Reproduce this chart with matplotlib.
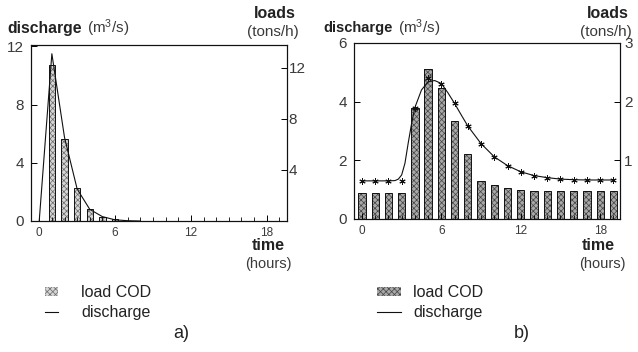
import matplotlib
matplotlib.use("Agg")
import matplotlib.pyplot as plt
from matplotlib.patches import Patch
from matplotlib.lines import Line2D

plt.rcParams['font.family'] = ['Liberation Sans', 'DejaVu Sans']
plt.rcParams['mathtext.default'] = 'regular'
plt.rcParams['hatch.linewidth'] = 0.5

# ---------------- data: panel a ----------------
a_hours = [1, 2, 3, 4, 5, 6]
a_load = [12.2, 6.4, 2.56, 0.92, 0.34, 0.13]          # tons/h (right axis)
a_q_time = [0, 1, 2, 3, 4, 5, 6, 7, 8]
a_q = [0.0, 11.5, 5.75, 2.2, 0.8, 0.3, 0.08, 0.02, 0.0]  # m3/s (left axis)

# ---------------- data: panel b ----------------
b_hours = list(range(20))
b_load = [0.44, 0.44, 0.44, 0.44, 1.90, 2.55, 2.23, 1.67, 1.10, 0.65,
          0.58, 0.52, 0.49, 0.48, 0.47, 0.47, 0.47, 0.47, 0.47, 0.47]
b_q = [1.30, 1.30, 1.30, 1.30, 3.77, 4.80, 4.60, 3.94, 3.17, 2.57,
       2.12, 1.82, 1.61, 1.48, 1.41, 1.36, 1.34, 1.33, 1.33, 1.33]
b_curve_t = [0, 1, 2, 2.5, 2.75, 3, 3.25, 3.5, 3.75, 4, 4.5, 5, 5.5, 6,
             6.5, 7, 7.5, 8, 9, 10, 11, 12, 13, 14, 15, 16, 17, 18, 19]
b_curve_q = [1.30, 1.30, 1.30, 1.31, 1.36, 1.50, 1.90, 2.60, 3.25, 3.80,
             4.40, 4.68, 4.72, 4.62, 4.30, 3.94, 3.55, 3.17, 2.57, 2.12,
             1.82, 1.61, 1.48, 1.41, 1.36, 1.34, 1.33, 1.33, 1.33]

x_major = [0, 6, 12, 18]
a_left_ticks = [0, 4, 8, 12]
a_right_ticks = [4, 8, 12]
b_left_ticks = [0, 2, 4, 6]
b_right_ticks = [1, 2, 3]

W, H = 638, 352
fig = plt.figure(figsize=(W / 100, H / 100), dpi=100)


def P(x, y):
    return x / W, 1 - y / H


def make_axes(l, t, r, b):
    return fig.add_axes([l / W, 1 - b / H, (r - l) / W, (b - t) / H])


TXT = '#222222'
LIGHT = '#3a3a3a'


def style(ax, ax2, xlim, ylim, ylim2, lt, rt, rpad):
    ax.set_xlim(*xlim)
    ax.set_ylim(*ylim)
    ax2.set_ylim(*ylim2)
    ax.set_xticks(x_major)
    ax.set_xticks(range(0, 20), minor=True)
    ax.set_yticks(lt)
    ax2.set_yticks(rt)
    ax.tick_params(axis='x', which='both', direction='in', labelsize=8.5,
                   pad=4, labelcolor=LIGHT)
    ax.tick_params(axis='x', which='major', length=4, width=0.7)
    ax.tick_params(axis='x', which='minor', length=3, width=0.6)
    ax.tick_params(axis='y', direction='in', labelsize=11, length=4,
                   width=0.7, pad=5, labelcolor=LIGHT)
    ax2.tick_params(axis='y', direction='in', labelsize=11, length=4,
                    width=0.7, pad=rpad, labelcolor=LIGHT)
    for a in (ax, ax2):
        for s in a.spines.values():
            s.set_linewidth(0.8)
            s.set_color('#111111')


# ================= panel a =================
axa = make_axes(31, 45, 287, 221)
axa2 = axa.twinx()
axa2.bar(a_hours, a_load, width=0.5, color='#d6d6d6', edgecolor='#6a6a6a',
         hatch='xxxxxx', linewidth=0, zorder=2)
axa2.bar(a_hours, a_load, width=0.5, fill=False, edgecolor='#111111',
         linewidth=0.7, zorder=3)
axa.plot(a_q_time, a_q, color='#111111', lw=0.8, zorder=4)
axa.set_zorder(axa2.get_zorder() + 1)
axa.patch.set_visible(False)
style(axa, axa2, (-0.65, 19.6), (0, 12.1), (0, 13.8), a_left_ticks,
      a_right_ticks, 1)

# ================= panel b =================
axb = make_axes(354, 43, 620, 219)
axb2 = axb.twinx()
axb2.bar(b_hours, b_load, width=0.55, color='#a8a8a8', edgecolor='#444444',
         hatch='xxxxxx', linewidth=0, zorder=2)
axb2.bar(b_hours, b_load, width=0.55, fill=False, edgecolor='#111111',
         linewidth=0.7, zorder=3)
axb.plot(b_curve_t, b_curve_q, color='#111111', lw=0.8, zorder=4)
axb.plot(b_hours, b_q, linestyle='none', marker=(6, 2, 0), markersize=4.5,
         markeredgewidth=0.7, color='#111111', zorder=5)
axb.set_zorder(axb2.get_zorder() + 1)
axb.patch.set_visible(False)
style(axb, axb2, (-0.6, 19.5), (0, 6.0), (0, 3.0), b_left_ticks,
      b_right_ticks, 3)

# ================= texts =================
def t(x, y, s, **kw):
    fig.text(*P(x, y), s, **kw)


for (dx, dfs, mx, ly, lx, tx, hx) in [(7, 11.3, 87, 14, 296, 268, 268),
                                      (323, 10.5, 398, 13, 629, 598, 602)]:
    t(dx, 28, 'discharge', fontsize=dfs, fontweight='bold', color=TXT,
      ha='left', va='center')
    t(mx, 28, '(m$^{3}$/s)', fontsize=11, color=LIGHT, ha='left', va='center')
    t(lx, ly, 'loads', fontsize=11.5, fontweight='bold', color=TXT,
      ha='right', va='center')
    t(lx + 3, 32, '(tons/h)', fontsize=11, color=LIGHT, ha='right', va='center')
    t(tx, 246, 'time', fontsize=11.5, fontweight='bold', color=TXT,
      ha='center', va='center')
    t(hx, 264, '(hours)', fontsize=10.5, color=LIGHT, ha='center', va='center')

t(181, 334, 'a)', fontsize=13, color=TXT, ha='center', va='center')
t(522, 334, 'b)', fontsize=13, color=TXT, ha='center', va='center')

# legends
ha_a = [Patch(facecolor='#d6d6d6', edgecolor='#6a6a6a', hatch='xxxxxx', linewidth=0),
        Line2D([], [], color='#111111', lw=0.8)]
ha_b = [Patch(facecolor='#a8a8a8', edgecolor='#444444', hatch='xxxxxx', linewidth=0),
        Line2D([], [], color='#111111', lw=0.8)]
labels = ['load COD', 'discharge']
fig.legend(ha_a, labels, loc='upper left', bbox_to_anchor=P(45, 285),
           frameon=False, fontsize=11.5, handlelength=0.8, handleheight=0.55,
           handletextpad=1.45, labelspacing=0.32, borderpad=0, borderaxespad=0,
           labelcolor=TXT)
fig.legend(ha_b, labels, loc='upper left', bbox_to_anchor=P(377, 285),
           frameon=False, fontsize=11.5, handlelength=1.5, handleheight=0.55,
           handletextpad=0.75, labelspacing=0.32, borderpad=0, borderaxespad=0,
           labelcolor=TXT)

fig.savefig('out.png', dpi=100)
